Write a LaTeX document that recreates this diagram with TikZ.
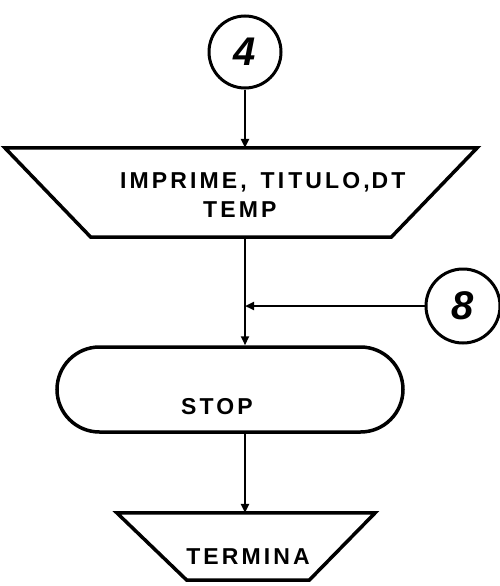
\documentclass[tikz,border=0pt]{standalone}
\usepackage{fontspec}
\setmainfont{Liberation Sans}
\newfontfamily\rotulado[LetterSpace=13.5]{Liberation Sans}
\usetikzlibrary{shapes.geometric, shapes.misc, arrows.meta, positioning}

\begin{document}
\begin{tikzpicture}[
        x=1pt, y=1pt,
        % Conector de página (círculo numerado)
        conector/.style={
                circle,
                draw=black,
                line width=3pt,
                minimum size=72pt,
                inner sep=0pt,
                font=\bfseries\itshape\fontsize{40}{40}\selectfont
            },
        % Caja de la salida impresa (el trapecio se traza aparte)
        impresion/.style={
                rectangle,
                inner sep=0pt
            },
        % Borde de los trapecios
        borde/.style={
                draw=black,
                line width=3.5pt,
                line join=miter
            },
        % Terminal redondeado
        terminal/.style={
                rounded rectangle,
                draw=black,
                line width=3.5pt,
                minimum width=350pt,
                minimum height=85pt,
                inner sep=2pt
            },
        % Texto rotulado
        rotulo/.style={
                font=\rotulado\bfseries\fontsize{23}{29}\selectfont,
                inner sep=0pt
            },
        % Flechas
        flecha/.style={
                -{Triangle[length=9pt, width=8pt]},
                line width=2.2pt,
                color=black
            }
    ]

    \useasboundingbox (0,0) rectangle (500,-586);

    % Conector de entrada
    \node[conector] (cuatro) at (245,-52) {4};

    % Impresión del título
    \node[impresion, minimum width=472pt, minimum height=89pt] (imprime) at (241,-192.5) {};
    \draw[borde] (imprime.north west) -- (imprime.north east)
        -- ([xshift=-86pt]imprime.south east) -- ([xshift=86pt]imprime.south west) -- cycle;
    \node[rotulo, align=left, anchor=north west] (imprimetexto) at (120,-172)
        {IMPRIME,\hspace{14pt}TI\hspace{4pt}TULO,\hspace{2pt}DT\\\hspace*{83pt}TEMP};

    % Conector lateral
    \node[conector, minimum size=74pt] (ocho) at (463,-306) {8};

    % Fin del programa
    \node[terminal] (stop) at (230,-389.5) {};
    \node[rotulo, anchor=base] (stoptexto) at (217,-414) {STOP};

    % Salida final
    \node[impresion, minimum width=258pt, minimum height=67pt] (termina) at (246,-546.5) {};
    \draw[borde] (termina.north west) -- (termina.north east)
        -- ([xshift=-66pt]termina.south east) -- ([xshift=70pt]termina.south west) -- cycle;
    \node[rotulo, anchor=base] (terminatexto) at (248,-564) {TERMINA};

    % Flechas
    \coordinate (union) at (cuatro |- ocho);
    \draw[flecha] (cuatro.south) -- (cuatro.south |- imprime.north);
    \draw[line width=2.2pt] (imprime.south -| cuatro) -- (union);
    \draw[flecha] (union) -- (cuatro |- stop.north);
    \draw[flecha] (ocho.west) -- (union);
    \draw[flecha] (stop.south -| cuatro) -- (cuatro |- termina.north);

\end{tikzpicture}
\end{document}
